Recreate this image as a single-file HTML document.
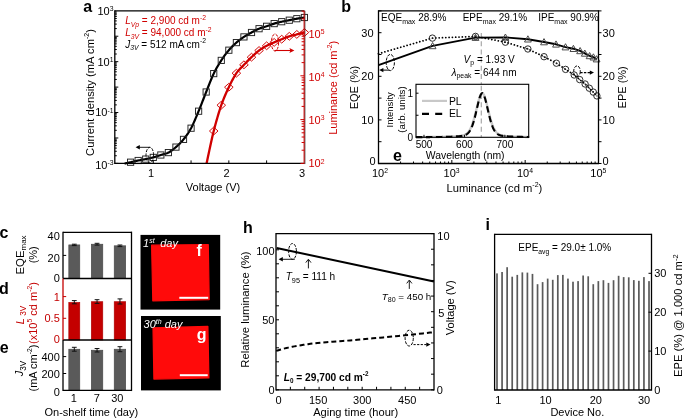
<!DOCTYPE html>
<html><head><meta charset="utf-8"><style>
html,body{margin:0;padding:0;background:#fff;}
body{width:685px;height:418px;overflow:hidden;}
svg{display:block;font-family:"Liberation Sans", sans-serif;will-change:transform;}
</style></head><body>
<svg width="685" height="418" viewBox="0 0 685 418">
<rect x="0" y="0" width="685" height="418" fill="#fff"/>
<path d="M124.57,163.60 L125.16,163.46 L125.75,163.32 L126.33,163.19 L126.91,163.05 L127.50,162.92 L128.09,162.78 L128.69,162.64 L129.31,162.50 L129.95,162.35 L130.61,162.20 L131.31,162.04 L132.03,161.87 L132.77,161.70 L133.53,161.53 L134.30,161.35 L135.07,161.17 L135.85,161.00 L136.63,160.83 L137.41,160.66 L138.17,160.50 L138.92,160.35 L139.68,160.21 L140.43,160.07 L141.19,159.93 L141.95,159.80 L142.70,159.67 L143.46,159.53 L144.21,159.39 L144.97,159.25 L145.72,159.10 L146.48,158.95 L147.24,158.79 L147.99,158.63 L148.75,158.48 L149.50,158.31 L150.26,158.14 L151.01,157.97 L151.77,157.79 L152.52,157.60 L153.28,157.40 L154.04,157.19 L154.79,156.96 L155.55,156.73 L156.30,156.49 L157.06,156.24 L157.81,155.99 L158.57,155.74 L159.32,155.49 L160.08,155.24 L160.84,155.00 L161.59,154.77 L162.35,154.57 L163.10,154.38 L163.86,154.19 L164.61,153.99 L165.37,153.78 L166.13,153.55 L166.88,153.28 L167.64,152.97 L168.39,152.60 L169.15,152.19 L169.90,151.73 L170.66,151.25 L171.41,150.73 L172.17,150.18 L172.93,149.61 L173.68,149.01 L174.44,148.39 L175.19,147.75 L175.95,147.10 L176.70,146.43 L177.46,145.76 L178.21,145.06 L178.97,144.35 L179.73,143.61 L180.48,142.84 L181.24,142.04 L181.99,141.20 L182.75,140.32 L183.50,139.40 L184.26,138.45 L185.02,137.48 L185.77,136.48 L186.53,135.45 L187.28,134.38 L188.04,133.27 L188.79,132.10 L189.55,130.87 L190.30,129.57 L191.06,128.20 L191.82,126.74 L192.57,125.21 L193.33,123.60 L194.08,121.92 L194.84,120.20 L195.59,118.44 L196.35,116.64 L197.10,114.83 L197.86,113.02 L198.62,111.20 L199.37,109.37 L200.13,107.49 L200.88,105.58 L201.64,103.64 L202.39,101.69 L203.15,99.73 L203.91,97.77 L204.66,95.82 L205.42,93.90 L206.17,92.00 L206.93,90.10 L207.68,88.19 L208.44,86.26 L209.19,84.33 L209.95,82.42 L210.71,80.55 L211.46,78.71 L212.22,76.93 L212.97,75.23 L213.73,73.60 L214.48,72.06 L215.24,70.58 L215.99,69.16 L216.75,67.80 L217.51,66.49 L218.26,65.21 L219.02,63.98 L219.77,62.76 L220.53,61.58 L221.28,60.40 L222.04,59.25 L222.80,58.13 L223.55,57.04 L224.31,55.98 L225.06,54.95 L225.82,53.95 L226.57,52.97 L227.33,52.03 L228.08,51.10 L228.84,50.20 L229.60,49.33 L230.35,48.48 L231.11,47.67 L231.86,46.88 L232.62,46.12 L233.37,45.38 L234.13,44.66 L234.88,43.96 L235.64,43.27 L236.40,42.60 L237.15,41.95 L237.91,41.32 L238.66,40.71 L239.42,40.12 L240.17,39.55 L240.93,39.00 L241.69,38.45 L242.44,37.93 L243.20,37.41 L243.95,36.90 L244.71,36.40 L245.46,35.93 L246.22,35.47 L246.97,35.02 L247.73,34.58 L248.49,34.15 L249.24,33.73 L250.00,33.32 L250.75,32.91 L251.51,32.50 L252.26,32.09 L253.02,31.68 L253.77,31.27 L254.53,30.87 L255.29,30.47 L256.04,30.09 L256.80,29.72 L257.55,29.36 L258.31,29.02 L259.06,28.70 L259.82,28.40 L260.58,28.14 L261.33,27.89 L262.09,27.65 L262.84,27.43 L263.60,27.21 L264.35,27.00 L265.11,26.78 L265.86,26.55 L266.62,26.30 L267.38,26.04 L268.13,25.77 L268.89,25.49 L269.64,25.20 L270.40,24.92 L271.15,24.64 L271.91,24.36 L272.66,24.09 L273.42,23.84 L274.18,23.60 L274.93,23.38 L275.69,23.16 L276.44,22.96 L277.20,22.76 L277.95,22.58 L278.71,22.39 L279.47,22.22 L280.22,22.04 L280.98,21.87 L281.73,21.70 L282.49,21.53 L283.24,21.37 L284.00,21.22 L284.75,21.07 L285.51,20.93 L286.27,20.78 L287.02,20.64 L287.78,20.49 L288.53,20.35 L289.29,20.20 L290.04,20.05 L290.80,19.90 L291.55,19.74 L292.31,19.59 L293.07,19.43 L293.82,19.28 L294.58,19.13 L295.33,18.98 L296.09,18.84 L296.84,18.70 L297.60,18.57 L298.36,18.44 L299.11,18.32 L299.87,18.20 L300.62,18.08 L301.38,17.97 L302.13,17.85 L302.89,17.74 L303.64,17.62 L304.40,17.50" stroke="#000" stroke-width="2.2" fill="none" stroke-linejoin="round"/>
<path d="M206.55,163.40 L207.27,160.13 L207.98,156.81 L208.69,153.47 L209.40,150.12 L210.12,146.79 L210.83,143.48 L211.55,140.23 L212.27,137.06 L212.99,133.97 L213.73,131.00 L214.47,128.12 L215.22,125.29 L215.97,122.53 L216.72,119.83 L217.48,117.20 L218.24,114.64 L219.01,112.16 L219.77,109.76 L220.53,107.43 L221.28,105.20 L222.04,103.07 L222.80,101.04 L223.55,99.10 L224.31,97.25 L225.06,95.46 L225.82,93.74 L226.57,92.06 L227.33,90.42 L228.08,88.80 L228.84,87.20 L229.60,85.61 L230.35,84.05 L231.11,82.53 L231.86,81.04 L232.62,79.60 L233.37,78.20 L234.13,76.86 L234.88,75.58 L235.64,74.36 L236.40,73.20 L237.15,72.13 L237.91,71.15 L238.66,70.24 L239.42,69.40 L240.17,68.60 L240.93,67.83 L241.69,67.08 L242.44,66.34 L243.20,65.58 L243.95,64.80 L244.71,64.00 L245.46,63.21 L246.22,62.43 L246.97,61.66 L247.73,60.89 L248.49,60.14 L249.24,59.39 L250.00,58.65 L250.75,57.92 L251.51,57.20 L252.26,56.48 L253.02,55.77 L253.77,55.06 L254.53,54.36 L255.29,53.67 L256.04,52.99 L256.80,52.33 L257.55,51.70 L258.31,51.08 L259.06,50.50 L259.82,49.94 L260.58,49.41 L261.33,48.90 L262.09,48.41 L262.84,47.94 L263.60,47.49 L264.35,47.05 L265.11,46.62 L265.86,46.21 L266.62,45.80 L267.38,45.41 L268.13,45.03 L268.89,44.68 L269.64,44.34 L270.40,44.01 L271.15,43.68 L271.91,43.36 L272.66,43.05 L273.42,42.73 L274.18,42.40 L274.93,42.07 L275.69,41.74 L276.44,41.42 L277.20,41.09 L277.95,40.77 L278.71,40.45 L279.47,40.13 L280.22,39.82 L280.98,39.51 L281.73,39.20 L282.49,38.89 L283.24,38.58 L284.00,38.28 L284.75,37.97 L285.51,37.67 L286.27,37.37 L287.02,37.09 L287.78,36.81 L288.53,36.55 L289.29,36.30 L290.04,36.07 L290.80,35.86 L291.55,35.66 L292.31,35.47 L293.07,35.29 L293.82,35.11 L294.58,34.94 L295.33,34.76 L296.09,34.59 L296.84,34.40 L297.60,34.21 L298.36,34.02 L299.11,33.83 L299.87,33.64 L300.62,33.45 L301.38,33.26 L302.13,33.07 L302.89,32.88 L303.64,32.69 L304.40,32.50" stroke="#d00000" stroke-width="2.3" fill="none" stroke-linejoin="round"/>
<rect x="127.51" y="159.10" width="6.2" height="6.2" fill="none" stroke="#222" stroke-width="0.95"/>
<rect x="135.07" y="157.40" width="6.2" height="6.2" fill="none" stroke="#222" stroke-width="0.95"/>
<rect x="142.62" y="156.00" width="6.2" height="6.2" fill="none" stroke="#222" stroke-width="0.95"/>
<rect x="150.18" y="154.30" width="6.2" height="6.2" fill="none" stroke="#222" stroke-width="0.95"/>
<rect x="157.74" y="151.90" width="6.2" height="6.2" fill="none" stroke="#222" stroke-width="0.95"/>
<rect x="165.29" y="149.50" width="6.2" height="6.2" fill="none" stroke="#222" stroke-width="0.95"/>
<rect x="172.85" y="144.00" width="6.2" height="6.2" fill="none" stroke="#222" stroke-width="0.95"/>
<rect x="180.40" y="136.30" width="6.2" height="6.2" fill="none" stroke="#222" stroke-width="0.95"/>
<rect x="187.96" y="125.10" width="6.2" height="6.2" fill="none" stroke="#222" stroke-width="0.95"/>
<rect x="195.52" y="108.10" width="6.2" height="6.2" fill="none" stroke="#222" stroke-width="0.95"/>
<rect x="203.07" y="88.90" width="6.2" height="6.2" fill="none" stroke="#222" stroke-width="0.95"/>
<rect x="210.63" y="70.50" width="6.2" height="6.2" fill="none" stroke="#222" stroke-width="0.95"/>
<rect x="218.18" y="57.30" width="6.2" height="6.2" fill="none" stroke="#222" stroke-width="0.95"/>
<rect x="225.74" y="47.10" width="6.2" height="6.2" fill="none" stroke="#222" stroke-width="0.95"/>
<rect x="233.30" y="39.50" width="6.2" height="6.2" fill="none" stroke="#222" stroke-width="0.95"/>
<rect x="240.85" y="33.80" width="6.2" height="6.2" fill="none" stroke="#222" stroke-width="0.95"/>
<rect x="248.41" y="29.40" width="6.2" height="6.2" fill="none" stroke="#222" stroke-width="0.95"/>
<rect x="255.96" y="25.60" width="6.2" height="6.2" fill="none" stroke="#222" stroke-width="0.95"/>
<rect x="263.52" y="23.20" width="6.2" height="6.2" fill="none" stroke="#222" stroke-width="0.95"/>
<rect x="271.08" y="20.50" width="6.2" height="6.2" fill="none" stroke="#222" stroke-width="0.95"/>
<rect x="278.63" y="18.60" width="6.2" height="6.2" fill="none" stroke="#222" stroke-width="0.95"/>
<rect x="286.19" y="17.10" width="6.2" height="6.2" fill="none" stroke="#222" stroke-width="0.95"/>
<rect x="293.74" y="15.60" width="6.2" height="6.2" fill="none" stroke="#222" stroke-width="0.95"/>
<rect x="301.30" y="14.40" width="6.2" height="6.2" fill="none" stroke="#222" stroke-width="0.95"/>
<path d="M209.43,131.00 L213.73,127.10 L218.03,131.00 L213.73,134.90 Z" fill="none" stroke="#d00000" stroke-width="0.95"/>
<path d="M216.98,105.20 L221.28,101.30 L225.58,105.20 L221.28,109.10 Z" fill="none" stroke="#d00000" stroke-width="0.95"/>
<path d="M224.54,87.20 L228.84,83.30 L233.14,87.20 L228.84,91.10 Z" fill="none" stroke="#d00000" stroke-width="0.95"/>
<path d="M232.10,73.20 L236.40,69.30 L240.70,73.20 L236.40,77.10 Z" fill="none" stroke="#d00000" stroke-width="0.95"/>
<path d="M239.65,64.80 L243.95,60.90 L248.25,64.80 L243.95,68.70 Z" fill="none" stroke="#d00000" stroke-width="0.95"/>
<path d="M247.21,57.20 L251.51,53.30 L255.81,57.20 L251.51,61.10 Z" fill="none" stroke="#d00000" stroke-width="0.95"/>
<path d="M254.76,50.50 L259.06,46.60 L263.36,50.50 L259.06,54.40 Z" fill="none" stroke="#d00000" stroke-width="0.95"/>
<path d="M262.32,45.80 L266.62,41.90 L270.92,45.80 L266.62,49.70 Z" fill="none" stroke="#d00000" stroke-width="0.95"/>
<path d="M269.88,42.40 L274.18,38.50 L278.48,42.40 L274.18,46.30 Z" fill="none" stroke="#d00000" stroke-width="0.95"/>
<path d="M277.43,39.20 L281.73,35.30 L286.03,39.20 L281.73,43.10 Z" fill="none" stroke="#d00000" stroke-width="0.95"/>
<path d="M284.99,36.30 L289.29,32.40 L293.59,36.30 L289.29,40.20 Z" fill="none" stroke="#d00000" stroke-width="0.95"/>
<path d="M292.54,34.40 L296.84,30.50 L301.14,34.40 L296.84,38.30 Z" fill="none" stroke="#d00000" stroke-width="0.95"/>
<path d="M300.10,32.50 L304.40,28.60 L308.70,32.50 L304.40,36.40 Z" fill="none" stroke="#d00000" stroke-width="0.95"/>
<line x1="114.80" y1="10.80" x2="304.40" y2="10.80" stroke="#000" stroke-width="1.3" />
<line x1="114.80" y1="163.40" x2="304.40" y2="163.40" stroke="#000" stroke-width="1.3" />
<line x1="114.80" y1="10.15" x2="114.80" y2="164.05" stroke="#000" stroke-width="1.3" />
<line x1="304.85" y1="10.80" x2="304.85" y2="164.05" stroke="#222" stroke-width="0.9" />
<line x1="304.10" y1="10.80" x2="304.10" y2="162.90" stroke="#d00000" stroke-width="1.0" />
<line x1="114.80" y1="163.40" x2="118.30" y2="163.40" stroke="#000" stroke-width="1" />
<line x1="114.80" y1="155.74" x2="116.80" y2="155.74" stroke="#000" stroke-width="1" />
<line x1="114.80" y1="151.27" x2="116.80" y2="151.27" stroke="#000" stroke-width="1" />
<line x1="114.80" y1="148.09" x2="116.80" y2="148.09" stroke="#000" stroke-width="1" />
<line x1="114.80" y1="145.62" x2="116.80" y2="145.62" stroke="#000" stroke-width="1" />
<line x1="114.80" y1="143.61" x2="116.80" y2="143.61" stroke="#000" stroke-width="1" />
<line x1="114.80" y1="141.91" x2="116.80" y2="141.91" stroke="#000" stroke-width="1" />
<line x1="114.80" y1="140.43" x2="116.80" y2="140.43" stroke="#000" stroke-width="1" />
<line x1="114.80" y1="139.13" x2="116.80" y2="139.13" stroke="#000" stroke-width="1" />
<line x1="114.80" y1="137.97" x2="118.30" y2="137.97" stroke="#000" stroke-width="1" />
<line x1="114.80" y1="130.31" x2="116.80" y2="130.31" stroke="#000" stroke-width="1" />
<line x1="114.80" y1="125.83" x2="116.80" y2="125.83" stroke="#000" stroke-width="1" />
<line x1="114.80" y1="122.65" x2="116.80" y2="122.65" stroke="#000" stroke-width="1" />
<line x1="114.80" y1="120.19" x2="116.80" y2="120.19" stroke="#000" stroke-width="1" />
<line x1="114.80" y1="118.18" x2="116.80" y2="118.18" stroke="#000" stroke-width="1" />
<line x1="114.80" y1="116.47" x2="116.80" y2="116.47" stroke="#000" stroke-width="1" />
<line x1="114.80" y1="115.00" x2="116.80" y2="115.00" stroke="#000" stroke-width="1" />
<line x1="114.80" y1="113.70" x2="116.80" y2="113.70" stroke="#000" stroke-width="1" />
<line x1="114.80" y1="112.53" x2="118.30" y2="112.53" stroke="#000" stroke-width="1" />
<line x1="114.80" y1="104.88" x2="116.80" y2="104.88" stroke="#000" stroke-width="1" />
<line x1="114.80" y1="100.40" x2="116.80" y2="100.40" stroke="#000" stroke-width="1" />
<line x1="114.80" y1="97.22" x2="116.80" y2="97.22" stroke="#000" stroke-width="1" />
<line x1="114.80" y1="94.76" x2="116.80" y2="94.76" stroke="#000" stroke-width="1" />
<line x1="114.80" y1="92.74" x2="116.80" y2="92.74" stroke="#000" stroke-width="1" />
<line x1="114.80" y1="91.04" x2="116.80" y2="91.04" stroke="#000" stroke-width="1" />
<line x1="114.80" y1="89.56" x2="116.80" y2="89.56" stroke="#000" stroke-width="1" />
<line x1="114.80" y1="88.26" x2="116.80" y2="88.26" stroke="#000" stroke-width="1" />
<line x1="114.80" y1="87.10" x2="118.30" y2="87.10" stroke="#000" stroke-width="1" />
<line x1="114.80" y1="79.44" x2="116.80" y2="79.44" stroke="#000" stroke-width="1" />
<line x1="114.80" y1="74.97" x2="116.80" y2="74.97" stroke="#000" stroke-width="1" />
<line x1="114.80" y1="71.79" x2="116.80" y2="71.79" stroke="#000" stroke-width="1" />
<line x1="114.80" y1="69.32" x2="116.80" y2="69.32" stroke="#000" stroke-width="1" />
<line x1="114.80" y1="67.31" x2="116.80" y2="67.31" stroke="#000" stroke-width="1" />
<line x1="114.80" y1="65.61" x2="116.80" y2="65.61" stroke="#000" stroke-width="1" />
<line x1="114.80" y1="64.13" x2="116.80" y2="64.13" stroke="#000" stroke-width="1" />
<line x1="114.80" y1="62.83" x2="116.80" y2="62.83" stroke="#000" stroke-width="1" />
<line x1="114.80" y1="61.67" x2="118.30" y2="61.67" stroke="#000" stroke-width="1" />
<line x1="114.80" y1="54.01" x2="116.80" y2="54.01" stroke="#000" stroke-width="1" />
<line x1="114.80" y1="49.53" x2="116.80" y2="49.53" stroke="#000" stroke-width="1" />
<line x1="114.80" y1="46.35" x2="116.80" y2="46.35" stroke="#000" stroke-width="1" />
<line x1="114.80" y1="43.89" x2="116.80" y2="43.89" stroke="#000" stroke-width="1" />
<line x1="114.80" y1="41.88" x2="116.80" y2="41.88" stroke="#000" stroke-width="1" />
<line x1="114.80" y1="40.17" x2="116.80" y2="40.17" stroke="#000" stroke-width="1" />
<line x1="114.80" y1="38.70" x2="116.80" y2="38.70" stroke="#000" stroke-width="1" />
<line x1="114.80" y1="37.40" x2="116.80" y2="37.40" stroke="#000" stroke-width="1" />
<line x1="114.80" y1="36.23" x2="118.30" y2="36.23" stroke="#000" stroke-width="1" />
<line x1="114.80" y1="28.58" x2="116.80" y2="28.58" stroke="#000" stroke-width="1" />
<line x1="114.80" y1="24.10" x2="116.80" y2="24.10" stroke="#000" stroke-width="1" />
<line x1="114.80" y1="20.92" x2="116.80" y2="20.92" stroke="#000" stroke-width="1" />
<line x1="114.80" y1="18.46" x2="116.80" y2="18.46" stroke="#000" stroke-width="1" />
<line x1="114.80" y1="16.44" x2="116.80" y2="16.44" stroke="#000" stroke-width="1" />
<line x1="114.80" y1="14.74" x2="116.80" y2="14.74" stroke="#000" stroke-width="1" />
<line x1="114.80" y1="13.26" x2="116.80" y2="13.26" stroke="#000" stroke-width="1" />
<line x1="114.80" y1="11.96" x2="116.80" y2="11.96" stroke="#000" stroke-width="1" />
<line x1="304.40" y1="163.40" x2="300.40" y2="163.40" stroke="#d00000" stroke-width="1" />
<line x1="304.40" y1="150.21" x2="301.60" y2="150.21" stroke="#d00000" stroke-width="1" />
<line x1="304.40" y1="142.50" x2="301.60" y2="142.50" stroke="#d00000" stroke-width="1" />
<line x1="304.40" y1="137.03" x2="301.60" y2="137.03" stroke="#d00000" stroke-width="1" />
<line x1="304.40" y1="132.79" x2="301.60" y2="132.79" stroke="#d00000" stroke-width="1" />
<line x1="304.40" y1="129.32" x2="301.60" y2="129.32" stroke="#d00000" stroke-width="1" />
<line x1="304.40" y1="126.38" x2="301.60" y2="126.38" stroke="#d00000" stroke-width="1" />
<line x1="304.40" y1="123.84" x2="301.60" y2="123.84" stroke="#d00000" stroke-width="1" />
<line x1="304.40" y1="121.60" x2="301.60" y2="121.60" stroke="#d00000" stroke-width="1" />
<line x1="304.40" y1="119.60" x2="300.40" y2="119.60" stroke="#d00000" stroke-width="1" />
<line x1="304.40" y1="106.41" x2="301.60" y2="106.41" stroke="#d00000" stroke-width="1" />
<line x1="304.40" y1="98.70" x2="301.60" y2="98.70" stroke="#d00000" stroke-width="1" />
<line x1="304.40" y1="93.23" x2="301.60" y2="93.23" stroke="#d00000" stroke-width="1" />
<line x1="304.40" y1="88.99" x2="301.60" y2="88.99" stroke="#d00000" stroke-width="1" />
<line x1="304.40" y1="85.52" x2="301.60" y2="85.52" stroke="#d00000" stroke-width="1" />
<line x1="304.40" y1="82.58" x2="301.60" y2="82.58" stroke="#d00000" stroke-width="1" />
<line x1="304.40" y1="80.04" x2="301.60" y2="80.04" stroke="#d00000" stroke-width="1" />
<line x1="304.40" y1="77.80" x2="301.60" y2="77.80" stroke="#d00000" stroke-width="1" />
<line x1="304.40" y1="75.80" x2="300.40" y2="75.80" stroke="#d00000" stroke-width="1" />
<line x1="304.40" y1="62.61" x2="301.60" y2="62.61" stroke="#d00000" stroke-width="1" />
<line x1="304.40" y1="54.90" x2="301.60" y2="54.90" stroke="#d00000" stroke-width="1" />
<line x1="304.40" y1="49.43" x2="301.60" y2="49.43" stroke="#d00000" stroke-width="1" />
<line x1="304.40" y1="45.19" x2="301.60" y2="45.19" stroke="#d00000" stroke-width="1" />
<line x1="304.40" y1="41.72" x2="301.60" y2="41.72" stroke="#d00000" stroke-width="1" />
<line x1="304.40" y1="38.78" x2="301.60" y2="38.78" stroke="#d00000" stroke-width="1" />
<line x1="304.40" y1="36.24" x2="301.60" y2="36.24" stroke="#d00000" stroke-width="1" />
<line x1="304.40" y1="34.00" x2="301.60" y2="34.00" stroke="#d00000" stroke-width="1" />
<line x1="304.40" y1="32.00" x2="300.40" y2="32.00" stroke="#d00000" stroke-width="1" />
<line x1="304.40" y1="18.81" x2="301.60" y2="18.81" stroke="#d00000" stroke-width="1" />
<line x1="304.40" y1="11.10" x2="301.60" y2="11.10" stroke="#d00000" stroke-width="1" />
<line x1="153.28" y1="163.40" x2="153.28" y2="160.40" stroke="#000" stroke-width="1" />
<line x1="191.06" y1="163.40" x2="191.06" y2="160.40" stroke="#000" stroke-width="1" />
<line x1="228.84" y1="163.40" x2="228.84" y2="160.40" stroke="#000" stroke-width="1" />
<line x1="266.62" y1="163.40" x2="266.62" y2="160.40" stroke="#000" stroke-width="1" />
<text x="83.3" y="12.3" font-size="16" text-anchor="start" fill="#000" font-weight="bold" font-style="normal" ><tspan >a</tspan></text>
<text x="113.5" y="14.700000000000012" font-size="11" text-anchor="end" fill="#000" font-weight="normal" font-style="normal" ><tspan >10</tspan><tspan font-size="6.82" dy="-3.74">3</tspan></text>
<text x="113.5" y="65.56666666666668" font-size="11" text-anchor="end" fill="#000" font-weight="normal" font-style="normal" ><tspan >10</tspan><tspan font-size="6.82" dy="-3.74">1</tspan></text>
<text x="113.5" y="116.43333333333334" font-size="11" text-anchor="end" fill="#000" font-weight="normal" font-style="normal" ><tspan >10</tspan><tspan font-size="6.82" dy="-3.74">-1</tspan></text>
<text x="113.5" y="168.8" font-size="11" text-anchor="end" fill="#000" font-weight="normal" font-style="normal" ><tspan >10</tspan><tspan font-size="6.82" dy="-3.74">-3</tspan></text>
<text x="150.98" y="177.0" font-size="11" text-anchor="middle" fill="#000" font-weight="normal" font-style="normal" ><tspan >1</tspan></text>
<text x="226.54" y="177.0" font-size="11" text-anchor="middle" fill="#000" font-weight="normal" font-style="normal" ><tspan >2</tspan></text>
<text x="302.09999999999997" y="177.0" font-size="11" text-anchor="middle" fill="#000" font-weight="normal" font-style="normal" ><tspan >3</tspan></text>
<text x="213.0" y="190.7" font-size="11" text-anchor="middle" fill="#000" font-weight="normal" font-style="normal" ><tspan >Voltage (V)</tspan></text>
<text x="93.5" y="92.5" font-size="11.2" text-anchor="middle" fill="#000" font-weight="normal" font-style="normal" transform="rotate(-90 93.5 92.5)" ><tspan >Current density (mA cm</tspan><tspan font-size="6.94" dy="-4.70">-2</tspan><tspan dy="4.70">)</tspan></text>
<text x="308.5" y="37.60000000000003" font-size="11" text-anchor="start" fill="#d00000" font-weight="normal" font-style="normal" ><tspan >10</tspan><tspan font-size="6.82" dy="-3.74">5</tspan></text>
<text x="308.5" y="80.50000000000001" font-size="11" text-anchor="start" fill="#d00000" font-weight="normal" font-style="normal" ><tspan >10</tspan><tspan font-size="6.82" dy="-3.74">4</tspan></text>
<text x="308.5" y="123.80000000000001" font-size="11" text-anchor="start" fill="#d00000" font-weight="normal" font-style="normal" ><tspan >10</tspan><tspan font-size="6.82" dy="-3.74">3</tspan></text>
<text x="308.5" y="167.3" font-size="11" text-anchor="start" fill="#d00000" font-weight="normal" font-style="normal" ><tspan >10</tspan><tspan font-size="6.82" dy="-3.74">2</tspan></text>
<text x="336.7" y="87.8" font-size="11" text-anchor="middle" fill="#d00000" font-weight="normal" font-style="normal" transform="rotate(-90 336.7 87.8)" ><tspan >Luminance (cd m</tspan><tspan font-size="6.82" dy="-4.62">-2</tspan><tspan dy="4.62">)</tspan></text>
<text x="125.2" y="23.8" font-size="10" text-anchor="start" fill="#d00000" font-weight="normal" font-style="normal" ><tspan font-style="italic">L</tspan><tspan font-size="6.80" font-style="italic" dy="2.80">Vp</tspan><tspan dy="-2.80"> = 2,900 cd m</tspan><tspan font-size="6.80" dy="-4.20">-2</tspan></text>
<text x="125.2" y="35.7" font-size="10" text-anchor="start" fill="#d00000" font-weight="normal" font-style="normal" ><tspan font-style="italic">L</tspan><tspan font-size="6.80" font-style="italic" dy="2.80">3V</tspan><tspan dy="-2.80"> = 94,000 cd m</tspan><tspan font-size="6.80" dy="-4.20">-2</tspan></text>
<text x="125.2" y="47.6" font-size="10" text-anchor="start" fill="#000" font-weight="normal" font-style="normal" ><tspan font-style="italic">J</tspan><tspan font-size="6.80" font-style="italic" dy="2.80">3V</tspan><tspan dy="-2.80"> = 512 mA cm</tspan><tspan font-size="6.80" dy="-4.20">-2</tspan></text>
<ellipse cx="149.8" cy="155.1" rx="3.8" ry="7.8" fill="none" stroke="#000" stroke-width="1.0" stroke-dasharray="3,1.3"/>
<line x1="149.80" y1="147.30" x2="137.00" y2="147.30" stroke="#000" stroke-width="0.9" />
<path d="M135.6,147.3 L139.8,145.1 L139.8,149.5 Z" fill="#000"/>
<ellipse cx="275.0" cy="42.5" rx="3.6" ry="8.5" fill="none" stroke="#d00000" stroke-width="1.0" stroke-dasharray="3,1.3"/>
<line x1="274.60" y1="50.50" x2="291.50" y2="50.50" stroke="#d00000" stroke-width="1.1" />
<path d="M294.4,50.5 L289.4,48.1 L290.4,50.5 L289.4,52.9 Z" fill="#d00000"/>
<line x1="481.30" y1="33.00" x2="481.30" y2="137.30" stroke="#a8a8a8" stroke-width="1.2" stroke-dasharray="5,3.2"/>
<path d="M378.50,65.10 L432.60,45.90 L475.50,37.60 L505.40,37.40 L527.90,39.20 L544.00,42.00 L556.00,44.30 L565.50,47.10 L573.40,48.70 L580.10,50.90 L584.80,53.40 L589.60,55.90 L593.40,57.20 L596.60,59.10" stroke="#000" stroke-width="1.9" fill="none" stroke-linejoin="round"/>
<path d="M378.50,53.70 L432.40,38.10 L475.50,36.40 L505.40,42.20 L527.90,49.00 L544.00,56.70 L556.40,63.20 L565.60,69.40 L574.20,75.00 L579.70,79.60 L585.10,84.00 L589.30,88.20 L593.30,92.10 L596.90,95.90" stroke="#000" stroke-width="1.8" fill="none" stroke-dasharray="0.01,3.3" stroke-linecap="round"/>
<path d="M432.60,42.50 L436.00,48.70 L429.20,48.70 Z" fill="none" stroke="#4a4a4a" stroke-width="1.0"/>
<path d="M475.50,34.20 L478.90,40.40 L472.10,40.40 Z" fill="none" stroke="#4a4a4a" stroke-width="1.0"/>
<path d="M505.40,34.00 L508.80,40.20 L502.00,40.20 Z" fill="none" stroke="#4a4a4a" stroke-width="1.0"/>
<path d="M527.90,35.80 L531.30,42.00 L524.50,42.00 Z" fill="none" stroke="#4a4a4a" stroke-width="1.0"/>
<path d="M544.00,38.60 L547.40,44.80 L540.60,44.80 Z" fill="none" stroke="#4a4a4a" stroke-width="1.0"/>
<path d="M556.00,40.90 L559.40,47.10 L552.60,47.10 Z" fill="none" stroke="#4a4a4a" stroke-width="1.0"/>
<path d="M565.50,43.70 L568.90,49.90 L562.10,49.90 Z" fill="none" stroke="#4a4a4a" stroke-width="1.0"/>
<path d="M573.40,45.30 L576.80,51.50 L570.00,51.50 Z" fill="none" stroke="#4a4a4a" stroke-width="1.0"/>
<path d="M580.10,47.50 L583.50,53.70 L576.70,53.70 Z" fill="none" stroke="#4a4a4a" stroke-width="1.0"/>
<path d="M584.80,50.00 L588.20,56.20 L581.40,56.20 Z" fill="none" stroke="#4a4a4a" stroke-width="1.0"/>
<path d="M589.60,52.50 L593.00,58.70 L586.20,58.70 Z" fill="none" stroke="#4a4a4a" stroke-width="1.0"/>
<path d="M593.40,53.80 L596.80,60.00 L590.00,60.00 Z" fill="none" stroke="#4a4a4a" stroke-width="1.0"/>
<path d="M596.60,55.70 L600.00,61.90 L593.20,61.90 Z" fill="none" stroke="#4a4a4a" stroke-width="1.0"/>
<circle cx="432.4" cy="38.1" r="3.2" fill="none" stroke="#222" stroke-width="0.95"/>
<circle cx="432.4" cy="38.1" r="0.7" fill="#222"/>
<circle cx="475.5" cy="36.4" r="3.2" fill="none" stroke="#222" stroke-width="0.95"/>
<circle cx="475.5" cy="36.4" r="0.7" fill="#222"/>
<circle cx="505.4" cy="42.2" r="3.2" fill="none" stroke="#222" stroke-width="0.95"/>
<circle cx="505.4" cy="42.2" r="0.7" fill="#222"/>
<circle cx="527.9" cy="49" r="3.2" fill="none" stroke="#222" stroke-width="0.95"/>
<circle cx="527.9" cy="49" r="0.7" fill="#222"/>
<circle cx="544" cy="56.7" r="3.2" fill="none" stroke="#222" stroke-width="0.95"/>
<circle cx="544" cy="56.7" r="0.7" fill="#222"/>
<circle cx="556.4" cy="63.2" r="3.2" fill="none" stroke="#222" stroke-width="0.95"/>
<circle cx="556.4" cy="63.2" r="0.7" fill="#222"/>
<circle cx="565.6" cy="69.4" r="3.2" fill="none" stroke="#222" stroke-width="0.95"/>
<circle cx="565.6" cy="69.4" r="0.7" fill="#222"/>
<circle cx="574.2" cy="75" r="3.2" fill="none" stroke="#222" stroke-width="0.95"/>
<circle cx="574.2" cy="75" r="0.7" fill="#222"/>
<circle cx="579.7" cy="79.6" r="3.2" fill="none" stroke="#222" stroke-width="0.95"/>
<circle cx="579.7" cy="79.6" r="0.7" fill="#222"/>
<circle cx="585.1" cy="84" r="3.2" fill="none" stroke="#222" stroke-width="0.95"/>
<circle cx="585.1" cy="84" r="0.7" fill="#222"/>
<circle cx="589.3" cy="88.2" r="3.2" fill="none" stroke="#222" stroke-width="0.95"/>
<circle cx="589.3" cy="88.2" r="0.7" fill="#222"/>
<circle cx="593.3" cy="92.1" r="3.2" fill="none" stroke="#222" stroke-width="0.95"/>
<circle cx="593.3" cy="92.1" r="0.7" fill="#222"/>
<circle cx="596.9" cy="95.9" r="3.2" fill="none" stroke="#222" stroke-width="0.95"/>
<circle cx="596.9" cy="95.9" r="0.7" fill="#222"/>
<line x1="378.50" y1="10.90" x2="598.50" y2="10.90" stroke="#000" stroke-width="1.3" />
<line x1="378.50" y1="163.50" x2="598.50" y2="163.50" stroke="#000" stroke-width="1.3" />
<line x1="378.50" y1="10.25" x2="378.50" y2="164.15" stroke="#000" stroke-width="1.3" />
<line x1="598.50" y1="10.25" x2="598.50" y2="164.15" stroke="#000" stroke-width="1.3" />
<line x1="378.50" y1="163.50" x2="381.50" y2="163.50" stroke="#000" stroke-width="1" />
<line x1="598.50" y1="163.50" x2="601.50" y2="163.50" stroke="#000" stroke-width="1" />
<line x1="378.50" y1="141.70" x2="381.50" y2="141.70" stroke="#000" stroke-width="1" />
<line x1="598.50" y1="141.70" x2="601.50" y2="141.70" stroke="#000" stroke-width="1" />
<line x1="378.50" y1="119.90" x2="381.50" y2="119.90" stroke="#000" stroke-width="1" />
<line x1="598.50" y1="119.90" x2="601.50" y2="119.90" stroke="#000" stroke-width="1" />
<line x1="378.50" y1="98.10" x2="381.50" y2="98.10" stroke="#000" stroke-width="1" />
<line x1="598.50" y1="98.10" x2="601.50" y2="98.10" stroke="#000" stroke-width="1" />
<line x1="378.50" y1="76.30" x2="381.50" y2="76.30" stroke="#000" stroke-width="1" />
<line x1="598.50" y1="76.30" x2="601.50" y2="76.30" stroke="#000" stroke-width="1" />
<line x1="378.50" y1="54.50" x2="381.50" y2="54.50" stroke="#000" stroke-width="1" />
<line x1="598.50" y1="54.50" x2="601.50" y2="54.50" stroke="#000" stroke-width="1" />
<line x1="378.50" y1="32.70" x2="381.50" y2="32.70" stroke="#000" stroke-width="1" />
<line x1="598.50" y1="32.70" x2="601.50" y2="32.70" stroke="#000" stroke-width="1" />
<line x1="378.50" y1="10.90" x2="381.50" y2="10.90" stroke="#000" stroke-width="1" />
<line x1="598.50" y1="10.90" x2="601.50" y2="10.90" stroke="#000" stroke-width="1" />
<line x1="378.50" y1="163.50" x2="378.50" y2="160.00" stroke="#000" stroke-width="1" />
<line x1="400.58" y1="163.50" x2="400.58" y2="161.50" stroke="#000" stroke-width="1" />
<line x1="413.49" y1="163.50" x2="413.49" y2="161.50" stroke="#000" stroke-width="1" />
<line x1="422.65" y1="163.50" x2="422.65" y2="161.50" stroke="#000" stroke-width="1" />
<line x1="429.76" y1="163.50" x2="429.76" y2="161.50" stroke="#000" stroke-width="1" />
<line x1="435.56" y1="163.50" x2="435.56" y2="161.50" stroke="#000" stroke-width="1" />
<line x1="440.47" y1="163.50" x2="440.47" y2="161.50" stroke="#000" stroke-width="1" />
<line x1="444.73" y1="163.50" x2="444.73" y2="161.50" stroke="#000" stroke-width="1" />
<line x1="448.48" y1="163.50" x2="448.48" y2="161.50" stroke="#000" stroke-width="1" />
<line x1="451.83" y1="163.50" x2="451.83" y2="160.00" stroke="#000" stroke-width="1" />
<line x1="473.91" y1="163.50" x2="473.91" y2="161.50" stroke="#000" stroke-width="1" />
<line x1="486.82" y1="163.50" x2="486.82" y2="161.50" stroke="#000" stroke-width="1" />
<line x1="495.98" y1="163.50" x2="495.98" y2="161.50" stroke="#000" stroke-width="1" />
<line x1="503.09" y1="163.50" x2="503.09" y2="161.50" stroke="#000" stroke-width="1" />
<line x1="508.90" y1="163.50" x2="508.90" y2="161.50" stroke="#000" stroke-width="1" />
<line x1="513.81" y1="163.50" x2="513.81" y2="161.50" stroke="#000" stroke-width="1" />
<line x1="518.06" y1="163.50" x2="518.06" y2="161.50" stroke="#000" stroke-width="1" />
<line x1="521.81" y1="163.50" x2="521.81" y2="161.50" stroke="#000" stroke-width="1" />
<line x1="525.17" y1="163.50" x2="525.17" y2="160.00" stroke="#000" stroke-width="1" />
<line x1="547.24" y1="163.50" x2="547.24" y2="161.50" stroke="#000" stroke-width="1" />
<line x1="560.16" y1="163.50" x2="560.16" y2="161.50" stroke="#000" stroke-width="1" />
<line x1="569.32" y1="163.50" x2="569.32" y2="161.50" stroke="#000" stroke-width="1" />
<line x1="576.42" y1="163.50" x2="576.42" y2="161.50" stroke="#000" stroke-width="1" />
<line x1="582.23" y1="163.50" x2="582.23" y2="161.50" stroke="#000" stroke-width="1" />
<line x1="587.14" y1="163.50" x2="587.14" y2="161.50" stroke="#000" stroke-width="1" />
<line x1="591.39" y1="163.50" x2="591.39" y2="161.50" stroke="#000" stroke-width="1" />
<line x1="595.14" y1="163.50" x2="595.14" y2="161.50" stroke="#000" stroke-width="1" />
<text x="351" y="12.3" font-size="16" text-anchor="end" fill="#000" font-weight="bold" font-style="normal" ><tspan >b</tspan></text>
<text x="373.6" y="36.69999999999999" font-size="11" text-anchor="end" fill="#000" font-weight="normal" font-style="normal" ><tspan >30</tspan></text>
<text x="602.6" y="36.69999999999999" font-size="11" text-anchor="start" fill="#000" font-weight="normal" font-style="normal" ><tspan >30</tspan></text>
<text x="373.6" y="80.3" font-size="11" text-anchor="end" fill="#000" font-weight="normal" font-style="normal" ><tspan >20</tspan></text>
<text x="602.6" y="80.3" font-size="11" text-anchor="start" fill="#000" font-weight="normal" font-style="normal" ><tspan >20</tspan></text>
<text x="373.6" y="123.9" font-size="11" text-anchor="end" fill="#000" font-weight="normal" font-style="normal" ><tspan >10</tspan></text>
<text x="602.6" y="123.9" font-size="11" text-anchor="start" fill="#000" font-weight="normal" font-style="normal" ><tspan >10</tspan></text>
<text x="375.6" y="165.3" font-size="11" text-anchor="end" fill="#000" font-weight="normal" font-style="normal" ><tspan >0</tspan></text>
<text x="602.6" y="165.3" font-size="11" text-anchor="start" fill="#000" font-weight="normal" font-style="normal" ><tspan >0</tspan></text>
<text x="380.0" y="177.1" font-size="11" text-anchor="middle" fill="#000" font-weight="normal" font-style="normal" ><tspan >10</tspan><tspan font-size="6.82" dy="-3.74">2</tspan></text>
<text x="451.6333333333333" y="177.1" font-size="11" text-anchor="middle" fill="#000" font-weight="normal" font-style="normal" ><tspan >10</tspan><tspan font-size="6.82" dy="-3.74">3</tspan></text>
<text x="524.9666666666666" y="177.1" font-size="11" text-anchor="middle" fill="#000" font-weight="normal" font-style="normal" ><tspan >10</tspan><tspan font-size="6.82" dy="-3.74">4</tspan></text>
<text x="598.3" y="177.1" font-size="11" text-anchor="middle" fill="#000" font-weight="normal" font-style="normal" ><tspan >10</tspan><tspan font-size="6.82" dy="-3.74">5</tspan></text>
<text x="494.4" y="191.8" font-size="11.2" text-anchor="middle" fill="#000" font-weight="normal" font-style="normal" ><tspan >Luminance (cd m</tspan><tspan font-size="6.94" dy="-4.70">-2</tspan><tspan dy="4.70">)</tspan></text>
<text x="357.6" y="87.6" font-size="11" text-anchor="middle" fill="#000" font-weight="normal" font-style="normal" transform="rotate(-90 357.6 87.6)" ><tspan >EQE (%)</tspan></text>
<text x="626.0" y="87.3" font-size="11" text-anchor="middle" fill="#000" font-weight="normal" font-style="normal" transform="rotate(-90 626.0 87.3)" ><tspan >EPE (%)</tspan></text>
<text x="381" y="21" font-size="10" text-anchor="start" fill="#000" font-weight="normal" font-style="normal" ><tspan >EQE</tspan><tspan font-size="7.00" dy="2.80">max</tspan><tspan dy="-2.80"> 28.9%</tspan></text>
<text x="462.7" y="21" font-size="10" text-anchor="start" fill="#000" font-weight="normal" font-style="normal" ><tspan >EPE</tspan><tspan font-size="7.00" dy="2.80">max</tspan><tspan dy="-2.80"> 29.1%</tspan></text>
<text x="538.2" y="21" font-size="10" text-anchor="start" fill="#000" font-weight="normal" font-style="normal" ><tspan >IPE</tspan><tspan font-size="7.00" dy="2.80">max</tspan><tspan dy="-2.80"> 90.9%</tspan></text>
<text x="514.8" y="62.5" font-size="10.1" text-anchor="end" fill="#000" font-weight="normal" font-style="normal" ><tspan font-style="italic">V</tspan><tspan font-size="6.87" dy="2.83">p</tspan><tspan dy="-2.83"> = 1.93 V</tspan></text>
<text x="516.6" y="75.5" font-size="10.1" text-anchor="end" fill="#000" font-weight="normal" font-style="normal" ><tspan font-style="italic">λ</tspan><tspan font-size="6.87" dy="2.83">peak</tspan><tspan dy="-2.83"> = 644 nm</tspan></text>
<ellipse cx="390.3" cy="62.5" rx="4.1" ry="8.1" fill="none" stroke="#000" stroke-width="1.0" stroke-dasharray="3,1.3"/>
<line x1="389.50" y1="70.10" x2="382.00" y2="70.10" stroke="#000" stroke-width="1.0" />
<path d="M379.2,70.1 L383.4,67.9 L383.4,72.3 Z" fill="#000"/>
<ellipse cx="577.0" cy="71.3" rx="3.3" ry="5.4" fill="none" stroke="#000" stroke-width="1.0" stroke-dasharray="3,1.3"/>
<line x1="580.20" y1="72.60" x2="590.50" y2="72.60" stroke="#000" stroke-width="1.1" stroke-dasharray="2.4,1.3"/>
<path d="M594.0,72.6 L589.8,70.4 L589.8,74.8 Z" fill="#000"/>
<rect x="416.0" y="84.3" width="112.70000000000005" height="53.000000000000014" fill="#fff" stroke="none"/>
<line x1="481.30" y1="85.80" x2="481.30" y2="137.30" stroke="#a8a8a8" stroke-width="1.2" stroke-dasharray="5,3.2"/>
<path d="M415.90,137.14 L416.28,137.14 L416.66,137.14 L417.04,137.14 L417.42,137.14 L417.79,137.13 L418.17,137.13 L418.55,137.13 L418.93,137.13 L419.31,137.13 L419.69,137.12 L420.07,137.12 L420.45,137.12 L420.82,137.12 L421.20,137.11 L421.58,137.11 L421.96,137.11 L422.34,137.11 L422.72,137.10 L423.10,137.10 L423.48,137.10 L423.85,137.10 L424.23,137.09 L424.61,137.09 L424.99,137.09 L425.37,137.09 L425.75,137.08 L426.13,137.08 L426.51,137.08 L426.89,137.07 L427.26,137.07 L427.64,137.07 L428.02,137.07 L428.40,137.06 L428.78,137.06 L429.16,137.06 L429.54,137.05 L429.92,137.05 L430.29,137.05 L430.67,137.04 L431.05,137.04 L431.43,137.03 L431.81,137.03 L432.19,137.03 L432.57,137.02 L432.95,137.02 L433.32,137.01 L433.70,137.01 L434.08,137.00 L434.46,137.00 L434.84,137.00 L435.22,136.99 L435.60,136.99 L435.98,136.98 L436.35,136.98 L436.73,136.97 L437.11,136.96 L437.49,136.96 L437.87,136.95 L438.25,136.95 L438.63,136.94 L439.01,136.94 L439.39,136.93 L439.76,136.92 L440.14,136.92 L440.52,136.91 L440.90,136.90 L441.28,136.89 L441.66,136.89 L442.04,136.88 L442.42,136.87 L442.79,136.86 L443.17,136.86 L443.55,136.85 L443.93,136.84 L444.31,136.83 L444.69,136.82 L445.07,136.81 L445.45,136.80 L445.82,136.79 L446.20,136.78 L446.58,136.77 L446.96,136.76 L447.34,136.75 L447.72,136.74 L448.10,136.72 L448.48,136.71 L448.86,136.70 L449.23,136.69 L449.61,136.67 L449.99,136.66 L450.37,136.64 L450.75,136.63 L451.13,136.61 L451.51,136.60 L451.89,136.58 L452.26,136.56 L452.64,136.54 L453.02,136.53 L453.40,136.51 L453.78,136.49 L454.16,136.47 L454.54,136.44 L454.92,136.42 L455.29,136.40 L455.67,136.37 L456.05,136.35 L456.43,136.32 L456.81,136.29 L457.19,136.26 L457.57,136.23 L457.95,136.20 L458.33,136.16 L458.70,136.12 L459.08,136.08 L459.46,136.04 L459.84,135.99 L460.22,135.94 L460.60,135.89 L460.98,135.83 L461.36,135.76 L461.73,135.69 L462.11,135.61 L462.49,135.53 L462.87,135.43 L463.25,135.33 L463.63,135.21 L464.01,135.08 L464.39,134.93 L464.76,134.77 L465.14,134.59 L465.52,134.39 L465.90,134.17 L466.28,133.92 L466.66,133.64 L467.04,133.33 L467.42,132.98 L467.80,132.60 L468.17,132.18 L468.55,131.71 L468.93,131.20 L469.31,130.64 L469.69,130.03 L470.07,129.36 L470.45,128.64 L470.83,127.85 L471.20,127.00 L471.58,126.09 L471.96,125.12 L472.34,124.08 L472.72,122.97 L473.10,121.81 L473.48,120.58 L473.86,119.29 L474.23,117.95 L474.61,116.55 L474.99,115.11 L475.37,113.63 L475.75,112.12 L476.13,110.59 L476.51,109.04 L476.89,107.48 L477.26,105.94 L477.64,104.41 L478.02,102.92 L478.40,101.48 L478.78,100.10 L479.16,98.81 L479.54,97.61 L479.92,96.52 L480.30,95.57 L480.67,94.75 L481.05,94.10 L481.43,93.62 L481.81,93.32 L482.19,93.20 L482.57,93.27 L482.95,93.53 L483.33,93.96 L483.70,94.57 L484.08,95.34 L484.46,96.26 L484.84,97.32 L485.22,98.49 L485.60,99.76 L485.98,101.12 L486.36,102.55 L486.73,104.03 L487.11,105.54 L487.49,107.08 L487.87,108.64 L488.25,110.19 L488.63,111.73 L489.01,113.25 L489.39,114.74 L489.77,116.19 L490.14,117.59 L490.52,118.95 L490.90,120.25 L491.28,121.50 L491.66,122.68 L492.04,123.80 L492.42,124.86 L492.80,125.85 L493.17,126.77 L493.55,127.64 L493.93,128.44 L494.31,129.18 L494.69,129.86 L495.07,130.49 L495.45,131.06 L495.83,131.59 L496.20,132.06 L496.58,132.50 L496.96,132.89 L497.34,133.24 L497.72,133.56 L498.10,133.85 L498.48,134.10 L498.86,134.34 L499.24,134.54 L499.61,134.73 L499.99,134.89 L500.37,135.04 L500.75,135.18 L501.13,135.30 L501.51,135.41 L501.89,135.50 L502.27,135.59 L502.64,135.67 L503.02,135.75 L503.40,135.81 L503.78,135.87 L504.16,135.93 L504.54,135.98 L504.92,136.03 L505.30,136.07 L505.67,136.11 L506.05,136.15 L506.43,136.19 L506.81,136.22 L507.19,136.25 L507.57,136.28 L507.95,136.31 L508.33,136.34 L508.71,136.37 L509.08,136.39 L509.46,136.41 L509.84,136.44 L510.22,136.46 L510.60,136.48 L510.98,136.50 L511.36,136.52 L511.74,136.54 L512.11,136.56 L512.49,136.58 L512.87,136.59 L513.25,136.61 L513.63,136.62 L514.01,136.64 L514.39,136.65 L514.77,136.67 L515.14,136.68 L515.52,136.70 L515.90,136.71 L516.28,136.72 L516.66,136.73 L517.04,136.75 L517.42,136.76 L517.80,136.77 L518.17,136.78 L518.55,136.79 L518.93,136.80 L519.31,136.81 L519.69,136.82 L520.07,136.83 L520.45,136.84 L520.83,136.85 L521.21,136.85 L521.58,136.86 L521.96,136.87 L522.34,136.88 L522.72,136.89 L523.10,136.89 L523.48,136.90 L523.86,136.91 L524.24,136.91 L524.61,136.92 L524.99,136.93 L525.37,136.93 L525.75,136.94 L526.13,136.95 L526.51,136.95 L526.89,136.96 L527.27,136.96 L527.64,136.97 L528.02,136.97 L528.40,136.98 L528.78,136.98 L529.16,136.99" stroke="#c8c8c8" stroke-width="2.4" fill="none" />
<path d="M415.90,137.16 L416.28,137.16 L416.66,137.16 L417.04,137.15 L417.42,137.15 L417.79,137.15 L418.17,137.15 L418.55,137.15 L418.93,137.15 L419.31,137.14 L419.69,137.14 L420.07,137.14 L420.45,137.14 L420.82,137.14 L421.20,137.13 L421.58,137.13 L421.96,137.13 L422.34,137.13 L422.72,137.13 L423.10,137.12 L423.48,137.12 L423.85,137.12 L424.23,137.12 L424.61,137.11 L424.99,137.11 L425.37,137.11 L425.75,137.11 L426.13,137.10 L426.51,137.10 L426.89,137.10 L427.26,137.10 L427.64,137.09 L428.02,137.09 L428.40,137.09 L428.78,137.08 L429.16,137.08 L429.54,137.08 L429.92,137.08 L430.29,137.07 L430.67,137.07 L431.05,137.07 L431.43,137.06 L431.81,137.06 L432.19,137.05 L432.57,137.05 L432.95,137.05 L433.32,137.04 L433.70,137.04 L434.08,137.04 L434.46,137.03 L434.84,137.03 L435.22,137.02 L435.60,137.02 L435.98,137.01 L436.35,137.01 L436.73,137.00 L437.11,137.00 L437.49,136.99 L437.87,136.99 L438.25,136.98 L438.63,136.98 L439.01,136.97 L439.39,136.97 L439.76,136.96 L440.14,136.96 L440.52,136.95 L440.90,136.94 L441.28,136.94 L441.66,136.93 L442.04,136.92 L442.42,136.92 L442.79,136.91 L443.17,136.90 L443.55,136.89 L443.93,136.89 L444.31,136.88 L444.69,136.87 L445.07,136.86 L445.45,136.85 L445.82,136.84 L446.20,136.84 L446.58,136.83 L446.96,136.82 L447.34,136.81 L447.72,136.80 L448.10,136.78 L448.48,136.77 L448.86,136.76 L449.23,136.75 L449.61,136.74 L449.99,136.72 L450.37,136.71 L450.75,136.70 L451.13,136.68 L451.51,136.67 L451.89,136.65 L452.26,136.64 L452.64,136.62 L453.02,136.61 L453.40,136.59 L453.78,136.57 L454.16,136.55 L454.54,136.53 L454.92,136.51 L455.29,136.49 L455.67,136.47 L456.05,136.45 L456.43,136.42 L456.81,136.40 L457.19,136.37 L457.57,136.34 L457.95,136.31 L458.33,136.28 L458.70,136.25 L459.08,136.22 L459.46,136.18 L459.84,136.14 L460.22,136.10 L460.60,136.05 L460.98,136.01 L461.36,135.95 L461.73,135.90 L462.11,135.84 L462.49,135.77 L462.87,135.69 L463.25,135.61 L463.63,135.52 L464.01,135.42 L464.39,135.30 L464.76,135.17 L465.14,135.03 L465.52,134.87 L465.90,134.69 L466.28,134.49 L466.66,134.26 L467.04,134.01 L467.42,133.72 L467.80,133.40 L468.17,133.05 L468.55,132.65 L468.93,132.21 L469.31,131.72 L469.69,131.18 L470.07,130.58 L470.45,129.92 L470.83,129.20 L471.20,128.42 L471.58,127.56 L471.96,126.64 L472.34,125.65 L472.72,124.58 L473.10,123.45 L473.48,122.24 L473.86,120.96 L474.23,119.61 L474.61,118.20 L474.99,116.73 L475.37,115.21 L475.75,113.65 L476.13,112.04 L476.51,110.42 L476.89,108.77 L477.26,107.13 L477.64,105.50 L478.02,103.89 L478.40,102.33 L478.78,100.83 L479.16,99.41 L479.54,98.10 L479.92,96.90 L480.30,95.84 L480.67,94.94 L481.05,94.21 L481.43,93.67 L481.81,93.33 L482.19,93.20 L482.57,93.28 L482.95,93.57 L483.33,94.05 L483.70,94.73 L484.08,95.59 L484.46,96.61 L484.84,97.78 L485.22,99.07 L485.60,100.46 L485.98,101.94 L486.36,103.49 L486.73,105.08 L487.11,106.71 L487.49,108.35 L487.87,110.00 L488.25,111.63 L488.63,113.24 L489.01,114.81 L489.39,116.35 L489.77,117.83 L490.14,119.25 L490.52,120.62 L490.90,121.91 L491.28,123.14 L491.66,124.30 L492.04,125.38 L492.42,126.39 L492.80,127.33 L493.17,128.20 L493.55,129.01 L493.93,129.74 L494.31,130.41 L494.69,131.03 L495.07,131.58 L495.45,132.09 L495.83,132.54 L496.20,132.95 L496.58,133.32 L496.96,133.64 L497.34,133.94 L497.72,134.20 L498.10,134.43 L498.48,134.64 L498.86,134.83 L499.24,134.99 L499.61,135.14 L499.99,135.27 L500.37,135.39 L500.75,135.49 L501.13,135.59 L501.51,135.67 L501.89,135.75 L502.27,135.82 L502.64,135.88 L503.02,135.94 L503.40,135.99 L503.78,136.04 L504.16,136.09 L504.54,136.13 L504.92,136.17 L505.30,136.21 L505.67,136.24 L506.05,136.27 L506.43,136.31 L506.81,136.33 L507.19,136.36 L507.57,136.39 L507.95,136.41 L508.33,136.44 L508.71,136.46 L509.08,136.48 L509.46,136.51 L509.84,136.53 L510.22,136.55 L510.60,136.57 L510.98,136.58 L511.36,136.60 L511.74,136.62 L512.11,136.63 L512.49,136.65 L512.87,136.67 L513.25,136.68 L513.63,136.69 L514.01,136.71 L514.39,136.72 L514.77,136.73 L515.14,136.75 L515.52,136.76 L515.90,136.77 L516.28,136.78 L516.66,136.79 L517.04,136.80 L517.42,136.81 L517.80,136.82 L518.17,136.83 L518.55,136.84 L518.93,136.85 L519.31,136.86 L519.69,136.87 L520.07,136.88 L520.45,136.88 L520.83,136.89 L521.21,136.90 L521.58,136.91 L521.96,136.92 L522.34,136.92 L522.72,136.93 L523.10,136.94 L523.48,136.94 L523.86,136.95 L524.24,136.95 L524.61,136.96 L524.99,136.97 L525.37,136.97 L525.75,136.98 L526.13,136.98 L526.51,136.99 L526.89,136.99 L527.27,137.00 L527.64,137.00 L528.02,137.01 L528.40,137.01 L528.78,137.02 L529.16,137.02" stroke="#000" stroke-width="2.1" fill="none" stroke-dasharray="6.5,3.5"/>
<rect x="416.0" y="84.3" width="112.70000000000005" height="53.000000000000014" fill="none" stroke="#000" stroke-width="1.1"/>
<line x1="416.00" y1="137.30" x2="418.50" y2="137.30" stroke="#000" stroke-width="1" />
<line x1="416.00" y1="115.25" x2="418.50" y2="115.25" stroke="#000" stroke-width="1" />
<line x1="416.00" y1="93.20" x2="418.50" y2="93.20" stroke="#000" stroke-width="1" />
<line x1="423.99" y1="137.30" x2="423.99" y2="134.80" stroke="#000" stroke-width="1" />
<line x1="464.44" y1="137.30" x2="464.44" y2="134.80" stroke="#000" stroke-width="1" />
<line x1="504.89" y1="137.30" x2="504.89" y2="134.80" stroke="#000" stroke-width="1" />
<text x="413" y="96.7" font-size="10" text-anchor="end" fill="#000" font-weight="normal" font-style="normal" ><tspan >1</tspan></text>
<text x="413" y="140.8" font-size="10" text-anchor="end" fill="#000" font-weight="normal" font-style="normal" ><tspan >0</tspan></text>
<text x="423.98999999999995" y="148" font-size="10" text-anchor="middle" fill="#000" font-weight="normal" font-style="normal" ><tspan >500</tspan></text>
<text x="464.44" y="148" font-size="10" text-anchor="middle" fill="#000" font-weight="normal" font-style="normal" ><tspan >600</tspan></text>
<text x="504.89" y="148" font-size="10" text-anchor="middle" fill="#000" font-weight="normal" font-style="normal" ><tspan >700</tspan></text>
<text x="465.2" y="158.6" font-size="10.4" text-anchor="middle" fill="#000" font-weight="normal" font-style="normal" ><tspan >Wavelength (nm)</tspan></text>
<text x="392.6" y="109.8" font-size="9.5" text-anchor="middle" fill="#000" font-weight="normal" font-style="normal" transform="rotate(-90 392.6 109.8)" ><tspan >Intensity</tspan></text>
<text x="405" y="109.5" font-size="9.7" text-anchor="middle" fill="#000" font-weight="normal" font-style="normal" transform="rotate(-90 405 109.5)" ><tspan >(arb. units)</tspan></text>
<line x1="422.00" y1="100.90" x2="447.00" y2="100.90" stroke="#c8c8c8" stroke-width="2.2" />
<text x="448.9" y="104.6" font-size="10.4" text-anchor="start" fill="#000" font-weight="normal" font-style="normal" ><tspan >PL</tspan></text>
<line x1="422.00" y1="113.80" x2="442.40" y2="113.80" stroke="#000" stroke-width="2.3" stroke-dasharray="7,6.2"/>
<text x="448.9" y="117.4" font-size="10.4" text-anchor="start" fill="#000" font-weight="normal" font-style="normal" ><tspan >EL</tspan></text>
<text x="393" y="160.5" font-size="16" text-anchor="start" fill="#000" font-weight="bold" font-style="normal" ><tspan >e</tspan></text>
<rect x="68.8" y="244.9" width="11.0" height="33.599999999999994" fill="#5a5a5a" stroke="#444" stroke-width="0.6"/>
<rect x="91.3" y="244.2" width="11.5" height="34.30000000000001" fill="#5a5a5a" stroke="#444" stroke-width="0.6"/>
<rect x="114.2" y="245.8" width="11.5" height="32.69999999999999" fill="#5a5a5a" stroke="#444" stroke-width="0.6"/>
<rect x="68.8" y="302.4" width="11.0" height="37.60000000000002" fill="#c40000" stroke="#a00" stroke-width="0.6"/>
<rect x="91.3" y="301.7" width="11.5" height="38.30000000000001" fill="#c40000" stroke="#a00" stroke-width="0.6"/>
<rect x="114.2" y="301.7" width="11.5" height="38.30000000000001" fill="#c40000" stroke="#a00" stroke-width="0.6"/>
<rect x="68.8" y="349.2" width="11.0" height="41.19999999999999" fill="#5a5a5a" stroke="#444" stroke-width="0.6"/>
<rect x="91.3" y="350.2" width="11.5" height="40.19999999999999" fill="#5a5a5a" stroke="#444" stroke-width="0.6"/>
<rect x="114.2" y="349.2" width="11.5" height="41.19999999999999" fill="#5a5a5a" stroke="#444" stroke-width="0.6"/>
<line x1="74.30" y1="244.20" x2="74.30" y2="245.60" stroke="#111" stroke-width="1" />
<line x1="71.90" y1="244.20" x2="76.70" y2="244.20" stroke="#111" stroke-width="1" />
<line x1="71.90" y1="245.60" x2="76.70" y2="245.60" stroke="#111" stroke-width="1" />
<line x1="97.05" y1="243.30" x2="97.05" y2="245.10" stroke="#111" stroke-width="1" />
<line x1="94.65" y1="243.30" x2="99.45" y2="243.30" stroke="#111" stroke-width="1" />
<line x1="94.65" y1="245.10" x2="99.45" y2="245.10" stroke="#111" stroke-width="1" />
<line x1="119.95" y1="245.00" x2="119.95" y2="246.60" stroke="#111" stroke-width="1" />
<line x1="117.55" y1="245.00" x2="122.35" y2="245.00" stroke="#111" stroke-width="1" />
<line x1="117.55" y1="246.60" x2="122.35" y2="246.60" stroke="#111" stroke-width="1" />
<line x1="74.30" y1="300.60" x2="74.30" y2="303.80" stroke="#111" stroke-width="1" />
<line x1="71.90" y1="300.60" x2="76.70" y2="300.60" stroke="#111" stroke-width="1" />
<line x1="71.90" y1="303.80" x2="76.70" y2="303.80" stroke="#111" stroke-width="1" />
<line x1="97.05" y1="299.70" x2="97.05" y2="303.40" stroke="#111" stroke-width="1" />
<line x1="94.65" y1="299.70" x2="99.45" y2="299.70" stroke="#111" stroke-width="1" />
<line x1="94.65" y1="303.40" x2="99.45" y2="303.40" stroke="#111" stroke-width="1" />
<line x1="119.95" y1="298.90" x2="119.95" y2="304.00" stroke="#111" stroke-width="1" />
<line x1="117.55" y1="298.90" x2="122.35" y2="298.90" stroke="#111" stroke-width="1" />
<line x1="117.55" y1="304.00" x2="122.35" y2="304.00" stroke="#111" stroke-width="1" />
<line x1="74.30" y1="347.30" x2="74.30" y2="351.20" stroke="#111" stroke-width="1" />
<line x1="71.90" y1="347.30" x2="76.70" y2="347.30" stroke="#111" stroke-width="1" />
<line x1="71.90" y1="351.20" x2="76.70" y2="351.20" stroke="#111" stroke-width="1" />
<line x1="97.05" y1="348.50" x2="97.05" y2="352.00" stroke="#111" stroke-width="1" />
<line x1="94.65" y1="348.50" x2="99.45" y2="348.50" stroke="#111" stroke-width="1" />
<line x1="94.65" y1="352.00" x2="99.45" y2="352.00" stroke="#111" stroke-width="1" />
<line x1="119.95" y1="346.70" x2="119.95" y2="351.70" stroke="#111" stroke-width="1" />
<line x1="117.55" y1="346.70" x2="122.35" y2="346.70" stroke="#111" stroke-width="1" />
<line x1="117.55" y1="351.70" x2="122.35" y2="351.70" stroke="#111" stroke-width="1" />
<line x1="63.00" y1="232.30" x2="131.50" y2="232.30" stroke="#000" stroke-width="1.3" />
<line x1="131.50" y1="231.65" x2="131.50" y2="391.05" stroke="#000" stroke-width="1.3" />
<line x1="63.00" y1="278.50" x2="131.50" y2="278.50" stroke="#000" stroke-width="1.3" />
<line x1="63.00" y1="340.00" x2="131.50" y2="340.00" stroke="#000" stroke-width="1.3" />
<line x1="63.00" y1="390.40" x2="131.50" y2="390.40" stroke="#000" stroke-width="1.3" />
<line x1="63.00" y1="231.65" x2="63.00" y2="278.50" stroke="#000" stroke-width="1.3" />
<line x1="63.00" y1="278.50" x2="63.00" y2="340.00" stroke="#c40000" stroke-width="1.3" />
<line x1="63.00" y1="340.00" x2="63.00" y2="391.05" stroke="#000" stroke-width="1.3" />
<line x1="63.00" y1="255.40" x2="66.20" y2="255.40" stroke="#000" stroke-width="1" />
<line x1="63.00" y1="318.30" x2="66.20" y2="318.30" stroke="#c40000" stroke-width="1" />
<line x1="63.00" y1="296.60" x2="66.20" y2="296.60" stroke="#c40000" stroke-width="1" />
<line x1="63.00" y1="373.50" x2="66.20" y2="373.50" stroke="#000" stroke-width="1" />
<line x1="63.00" y1="356.60" x2="66.20" y2="356.60" stroke="#000" stroke-width="1" />
<text x="59.8" y="239.6" font-size="11" text-anchor="end" fill="#000" font-weight="normal" font-style="normal" ><tspan >40</tspan></text>
<text x="59.8" y="262.3" font-size="11" text-anchor="end" fill="#000" font-weight="normal" font-style="normal" ><tspan >20</tspan></text>
<text x="59.8" y="282.0" font-size="11" text-anchor="end" fill="#000" font-weight="normal" font-style="normal" ><tspan >0</tspan></text>
<text x="59.8" y="300.5" font-size="11" text-anchor="end" fill="#c40000" font-weight="normal" font-style="normal" ><tspan >1</tspan></text>
<text x="59.8" y="321.7" font-size="11" text-anchor="end" fill="#c40000" font-weight="normal" font-style="normal" ><tspan >0.5</tspan></text>
<text x="59.8" y="343.4" font-size="11" text-anchor="end" fill="#c40000" font-weight="normal" font-style="normal" ><tspan >0</tspan></text>
<text x="59.8" y="361.0" font-size="11" text-anchor="end" fill="#000" font-weight="normal" font-style="normal" ><tspan >400</tspan></text>
<text x="59.8" y="377.7" font-size="11" text-anchor="end" fill="#000" font-weight="normal" font-style="normal" ><tspan >200</tspan></text>
<text x="59.8" y="396.0" font-size="11" text-anchor="end" fill="#000" font-weight="normal" font-style="normal" ><tspan >0</tspan></text>
<text x="73.8" y="402.4" font-size="11" text-anchor="middle" fill="#000" font-weight="normal" font-style="normal" ><tspan >1</tspan></text>
<text x="96.9" y="402.4" font-size="11" text-anchor="middle" fill="#000" font-weight="normal" font-style="normal" ><tspan >7</tspan></text>
<text x="117.3" y="402.4" font-size="11" text-anchor="middle" fill="#000" font-weight="normal" font-style="normal" ><tspan >30</tspan></text>
<text x="91.3" y="416" font-size="11" text-anchor="middle" fill="#000" font-weight="normal" font-style="normal" ><tspan >On-shelf time (day)</tspan></text>
<text x="8.5" y="237.5" font-size="16" text-anchor="end" fill="#000" font-weight="bold" font-style="normal" ><tspan >c</tspan></text>
<text x="8.7" y="293.7" font-size="16" text-anchor="end" fill="#000" font-weight="bold" font-style="normal" ><tspan >d</tspan></text>
<text x="8.7" y="353.0" font-size="16" text-anchor="end" fill="#000" font-weight="bold" font-style="normal" ><tspan >e</tspan></text>
<text x="23.5" y="255.0" font-size="11.4" text-anchor="middle" fill="#000" font-weight="normal" font-style="normal" transform="rotate(-90 23.5 255.0)" ><tspan >EQE</tspan><tspan font-size="7.98" dy="2.51">max</tspan></text>
<text x="37.2" y="254.8" font-size="11" text-anchor="middle" fill="#000" font-weight="normal" font-style="normal" transform="rotate(-90 37.2 254.8)" ><tspan >(%)</tspan></text>
<text x="23.6" y="324.2" font-size="11" fill="#c40000" transform="rotate(-90 23.6 324.2)"><tspan font-style="italic">L</tspan><tspan font-size="8.2" dy="2.6"> 3V</tspan></text>
<text x="36.9" y="313.0" font-size="11" text-anchor="middle" fill="#c40000" font-weight="normal" font-style="normal" transform="rotate(-90 36.9 313.0)" ><tspan >(x10</tspan><tspan font-size="6.82" dy="-4.62">5</tspan><tspan dy="4.62"> cd m</tspan><tspan font-size="6.82" dy="-4.62">-2</tspan><tspan dy="4.62">)</tspan></text>
<text x="22.8" y="376.3" font-size="11" fill="#000" transform="rotate(-90 22.8 376.3)"><tspan font-style="italic">J</tspan><tspan font-size="8.2" dy="3.3">3V</tspan></text>
<text x="36.6" y="368.0" font-size="11" text-anchor="middle" fill="#000" font-weight="normal" font-style="normal" transform="rotate(-90 36.6 368.0)" ><tspan >(mA cm</tspan><tspan font-size="6.82" dy="-4.62">-2</tspan><tspan dy="4.62">)</tspan></text>
<rect x="140.5" y="234.9" width="79.69999999999999" height="74.70000000000002" fill="#000"/>
<polygon points="151.6,245.2 208.3,244.7 209.2,299.6 152.8,300.8" fill="#ff0a0a" stroke="#ff0a0a" stroke-width="1.2" stroke-linejoin="round"/>
<line x1="179.30" y1="297.80" x2="208.20" y2="297.80" stroke="#fff" stroke-width="2" />
<text x="196.4" y="255.8" font-size="16" text-anchor="start" fill="#fff" font-weight="bold" font-style="normal" ><tspan >f</tspan></text>
<text x="143" y="247" font-size="11" fill="#fff" font-style="italic">1<tspan font-size="7" dy="-4">st</tspan><tspan dy="4" dx="2.6"> day</tspan></text>
<rect x="141.0" y="316.0" width="79.80000000000001" height="74.39999999999998" fill="#000"/>
<polygon points="153.0,327.8 207.9,326.4 208.9,378.0 153.9,379.1" fill="#ff0a0a" stroke="#ff0a0a" stroke-width="1.2" stroke-linejoin="round"/>
<line x1="179.80" y1="375.20" x2="207.70" y2="375.20" stroke="#fff" stroke-width="2" />
<text x="196.8" y="339.5" font-size="16" text-anchor="start" fill="#fff" font-weight="bold" font-style="normal" ><tspan >g</tspan></text>
<text x="143.6" y="328" font-size="11" fill="#fff" font-style="italic">30<tspan font-size="7" dy="-4">th</tspan><tspan dy="4"> day</tspan></text>
<path d="M276.60,248.00 L433.90,281.40" stroke="#000" stroke-width="2.0" fill="none" />
<path d="M276.20,350.90 L277.44,350.54 L278.62,350.18 L279.77,349.83 L280.94,349.47 L282.15,349.11 L283.46,348.75 L284.90,348.38 L286.50,348.00 L288.28,347.61 L290.19,347.20 L292.23,346.78 L294.36,346.36 L296.56,345.95 L298.82,345.54 L301.10,345.16 L303.40,344.80 L305.69,344.47 L307.98,344.16 L310.30,343.86 L312.68,343.58 L315.13,343.31 L317.69,343.04 L320.37,342.77 L323.20,342.50 L326.19,342.23 L329.33,341.97 L332.60,341.72 L335.96,341.47 L339.41,341.22 L342.91,340.96 L346.45,340.69 L350.00,340.40 L353.63,340.09 L357.39,339.76 L361.24,339.42 L365.11,339.07 L368.98,338.72 L372.78,338.37 L376.47,338.03 L380.00,337.70 L383.34,337.39 L386.52,337.10 L389.58,336.81 L392.59,336.53 L395.58,336.24 L398.61,335.94 L401.74,335.63 L405.00,335.30 L408.40,334.95 L411.90,334.57 L415.46,334.19 L419.07,333.79 L422.72,333.39 L426.37,332.99 L430.00,332.59 L433.60,332.20" stroke="#000" stroke-width="2.0" fill="none" stroke-dasharray="5,3"/>
<line x1="276.00" y1="233.60" x2="434.00" y2="233.60" stroke="#000" stroke-width="1.3" />
<line x1="276.00" y1="389.80" x2="434.00" y2="389.80" stroke="#000" stroke-width="1.3" />
<line x1="276.00" y1="232.95" x2="276.00" y2="390.45" stroke="#000" stroke-width="1.3" />
<line x1="434.00" y1="232.95" x2="434.00" y2="390.45" stroke="#000" stroke-width="1.3" />
<line x1="276.00" y1="389.80" x2="279.00" y2="389.80" stroke="#000" stroke-width="1" />
<line x1="276.00" y1="375.80" x2="279.00" y2="375.80" stroke="#000" stroke-width="1" />
<line x1="276.00" y1="361.80" x2="279.00" y2="361.80" stroke="#000" stroke-width="1" />
<line x1="276.00" y1="347.80" x2="279.00" y2="347.80" stroke="#000" stroke-width="1" />
<line x1="276.00" y1="333.80" x2="279.00" y2="333.80" stroke="#000" stroke-width="1" />
<line x1="276.00" y1="319.80" x2="279.00" y2="319.80" stroke="#000" stroke-width="1" />
<line x1="276.00" y1="305.80" x2="279.00" y2="305.80" stroke="#000" stroke-width="1" />
<line x1="276.00" y1="291.80" x2="279.00" y2="291.80" stroke="#000" stroke-width="1" />
<line x1="276.00" y1="277.80" x2="279.00" y2="277.80" stroke="#000" stroke-width="1" />
<line x1="276.00" y1="263.80" x2="279.00" y2="263.80" stroke="#000" stroke-width="1" />
<line x1="276.00" y1="249.80" x2="279.00" y2="249.80" stroke="#000" stroke-width="1" />
<line x1="434.00" y1="389.80" x2="431.00" y2="389.80" stroke="#000" stroke-width="1" />
<line x1="434.00" y1="374.18" x2="431.00" y2="374.18" stroke="#000" stroke-width="1" />
<line x1="434.00" y1="358.56" x2="431.00" y2="358.56" stroke="#000" stroke-width="1" />
<line x1="434.00" y1="342.94" x2="431.00" y2="342.94" stroke="#000" stroke-width="1" />
<line x1="434.00" y1="327.32" x2="431.00" y2="327.32" stroke="#000" stroke-width="1" />
<line x1="434.00" y1="311.70" x2="431.00" y2="311.70" stroke="#000" stroke-width="1" />
<line x1="434.00" y1="296.08" x2="431.00" y2="296.08" stroke="#000" stroke-width="1" />
<line x1="434.00" y1="280.46" x2="431.00" y2="280.46" stroke="#000" stroke-width="1" />
<line x1="434.00" y1="264.84" x2="431.00" y2="264.84" stroke="#000" stroke-width="1" />
<line x1="434.00" y1="249.22" x2="431.00" y2="249.22" stroke="#000" stroke-width="1" />
<line x1="434.00" y1="233.60" x2="431.00" y2="233.60" stroke="#000" stroke-width="1" />
<line x1="290.36" y1="389.80" x2="290.36" y2="386.80" stroke="#000" stroke-width="1" />
<line x1="304.73" y1="389.80" x2="304.73" y2="386.80" stroke="#000" stroke-width="1" />
<line x1="319.09" y1="389.80" x2="319.09" y2="386.80" stroke="#000" stroke-width="1" />
<line x1="333.45" y1="389.80" x2="333.45" y2="386.80" stroke="#000" stroke-width="1" />
<line x1="347.82" y1="389.80" x2="347.82" y2="386.80" stroke="#000" stroke-width="1" />
<line x1="362.18" y1="389.80" x2="362.18" y2="386.80" stroke="#000" stroke-width="1" />
<line x1="376.55" y1="389.80" x2="376.55" y2="386.80" stroke="#000" stroke-width="1" />
<line x1="390.91" y1="389.80" x2="390.91" y2="386.80" stroke="#000" stroke-width="1" />
<line x1="405.27" y1="389.80" x2="405.27" y2="386.80" stroke="#000" stroke-width="1" />
<line x1="419.64" y1="389.80" x2="419.64" y2="386.80" stroke="#000" stroke-width="1" />
<text x="252.8" y="232.6" font-size="16" text-anchor="end" fill="#000" font-weight="bold" font-style="normal" ><tspan >h</tspan></text>
<text x="274.5" y="254.8" font-size="11" text-anchor="end" fill="#000" font-weight="normal" font-style="normal" ><tspan >100</tspan></text>
<text x="274.5" y="324.1" font-size="11" text-anchor="end" fill="#000" font-weight="normal" font-style="normal" ><tspan >50</tspan></text>
<text x="274.5" y="393.8" font-size="11" text-anchor="end" fill="#000" font-weight="normal" font-style="normal" ><tspan >0</tspan></text>
<text x="437.3" y="239.5" font-size="11" text-anchor="start" fill="#000" font-weight="normal" font-style="normal" ><tspan >10</tspan></text>
<text x="438.3" y="316.7" font-size="11" text-anchor="start" fill="#000" font-weight="normal" font-style="normal" ><tspan >5</tspan></text>
<text x="436.8" y="393.8" font-size="11" text-anchor="start" fill="#000" font-weight="normal" font-style="normal" ><tspan >0</tspan></text>
<text x="278.6" y="403.7" font-size="11" text-anchor="middle" fill="#000" font-weight="normal" font-style="normal" ><tspan >0</tspan></text>
<text x="318.0909090909091" y="403.7" font-size="11" text-anchor="middle" fill="#000" font-weight="normal" font-style="normal" ><tspan >150</tspan></text>
<text x="362.2818181818182" y="403.7" font-size="11" text-anchor="middle" fill="#000" font-weight="normal" font-style="normal" ><tspan >300</tspan></text>
<text x="407.27272727272725" y="403.7" font-size="11" text-anchor="middle" fill="#000" font-weight="normal" font-style="normal" ><tspan >450</tspan></text>
<text x="355.7" y="416" font-size="11.1" text-anchor="middle" fill="#000" font-weight="normal" font-style="normal" ><tspan >Aging time (hour)</tspan></text>
<text x="249.4" y="309.6" font-size="11.3" text-anchor="middle" fill="#000" font-weight="normal" font-style="normal" transform="rotate(-90 249.4 309.6)" ><tspan >Relative luminance (%)</tspan></text>
<text x="454.4" y="307.8" font-size="11.1" text-anchor="middle" fill="#000" font-weight="normal" font-style="normal" transform="rotate(-90 454.4 307.8)" ><tspan >Voltage (V)</tspan></text>
<text x="285.7" y="279.8" font-size="10.1" text-anchor="start" fill="#000" font-weight="normal" font-style="normal" ><tspan font-style="italic">T</tspan><tspan font-size="7.27" dy="3.03">95</tspan><tspan dy="-3.03"> = 111 h</tspan></text>
<text x="381.8" y="299.5" font-size="9.8" text-anchor="start" fill="#000" font-weight="normal" font-style="normal" ><tspan font-style="italic">T</tspan><tspan font-size="7.06" dy="2.94">80</tspan><tspan dy="-2.94"> = 450 h</tspan></text>
<line x1="308.40" y1="260.00" x2="308.40" y2="268.40" stroke="#000" stroke-width="0.9" />
<path d="M305.8,262.6 L308.4,259.2 L311,262.6" fill="none" stroke="#000" stroke-width="0.9"/>
<line x1="409.30" y1="281.00" x2="409.30" y2="288.90" stroke="#000" stroke-width="0.9" />
<path d="M406.7,283.4 L409.3,280 L411.9,283.4" fill="none" stroke="#000" stroke-width="0.9"/>
<text x="283.7" y="380.5" font-size="10.2" text-anchor="start" fill="#000" font-weight="bold" font-style="normal" ><tspan font-style="italic">L</tspan><tspan font-size="6.32" dy="2.86">0</tspan><tspan dy="-2.86"> = 29,700 cd m</tspan><tspan font-size="6.32" dy="-4.28">-2</tspan></text>
<ellipse cx="292.5" cy="251.4" rx="3.9" ry="7.9" fill="none" stroke="#000" stroke-width="1.0" stroke-dasharray="3,1.3"/>
<line x1="294.80" y1="259.30" x2="280.50" y2="259.30" stroke="#000" stroke-width="0.9" />
<path d="M278.6,259.3 L282.8,257.1 L282.8,261.5 Z" fill="#000"/>
<ellipse cx="409.2" cy="338.1" rx="4.1" ry="7.9" fill="none" stroke="#000" stroke-width="1.0" stroke-dasharray="3,1.3"/>
<line x1="413.50" y1="344.60" x2="428.00" y2="344.60" stroke="#000" stroke-width="1.0" stroke-dasharray="2.2,1.4"/>
<path d="M430.5,344.6 L426.3,342.4 L426.3,346.8 Z" fill="#000"/>
<rect x="496.15" y="273.4" width="1.7" height="116.60" fill="#5a5a5a"/>
<rect x="501.22" y="272" width="1.7" height="118.00" fill="#5a5a5a"/>
<rect x="506.28" y="267.2" width="1.7" height="122.80" fill="#5a5a5a"/>
<rect x="511.35" y="276.7" width="1.7" height="113.30" fill="#5a5a5a"/>
<rect x="516.42" y="274.9" width="1.7" height="115.10" fill="#5a5a5a"/>
<rect x="521.49" y="272.4" width="1.7" height="117.60" fill="#5a5a5a"/>
<rect x="526.55" y="272.6" width="1.7" height="117.40" fill="#5a5a5a"/>
<rect x="531.62" y="273.9" width="1.7" height="116.10" fill="#5a5a5a"/>
<rect x="536.69" y="284.2" width="1.7" height="105.80" fill="#5a5a5a"/>
<rect x="541.75" y="282.1" width="1.7" height="107.90" fill="#5a5a5a"/>
<rect x="546.82" y="278.6" width="1.7" height="111.40" fill="#5a5a5a"/>
<rect x="551.89" y="279.8" width="1.7" height="110.20" fill="#5a5a5a"/>
<rect x="556.95" y="275.1" width="1.7" height="114.90" fill="#5a5a5a"/>
<rect x="562.02" y="274.9" width="1.7" height="115.10" fill="#5a5a5a"/>
<rect x="567.09" y="278.6" width="1.7" height="111.40" fill="#5a5a5a"/>
<rect x="572.15" y="281.7" width="1.7" height="108.30" fill="#5a5a5a"/>
<rect x="577.22" y="281.1" width="1.7" height="108.90" fill="#5a5a5a"/>
<rect x="582.29" y="275.5" width="1.7" height="114.50" fill="#5a5a5a"/>
<rect x="587.36" y="276.3" width="1.7" height="113.70" fill="#5a5a5a"/>
<rect x="592.42" y="284.2" width="1.7" height="105.80" fill="#5a5a5a"/>
<rect x="597.49" y="281.1" width="1.7" height="108.90" fill="#5a5a5a"/>
<rect x="602.56" y="280.2" width="1.7" height="109.80" fill="#5a5a5a"/>
<rect x="607.62" y="282.9" width="1.7" height="107.10" fill="#5a5a5a"/>
<rect x="612.69" y="280.2" width="1.7" height="109.80" fill="#5a5a5a"/>
<rect x="617.76" y="275.8" width="1.7" height="114.20" fill="#5a5a5a"/>
<rect x="622.82" y="277.1" width="1.7" height="112.90" fill="#5a5a5a"/>
<rect x="627.89" y="277.3" width="1.7" height="112.70" fill="#5a5a5a"/>
<rect x="632.96" y="280.1" width="1.7" height="109.90" fill="#5a5a5a"/>
<rect x="638.03" y="280.8" width="1.7" height="109.20" fill="#5a5a5a"/>
<rect x="643.09" y="277.1" width="1.7" height="112.90" fill="#5a5a5a"/>
<rect x="648.16" y="281.1" width="1.7" height="108.90" fill="#5a5a5a"/>
<line x1="494.60" y1="234.40" x2="651.50" y2="234.40" stroke="#000" stroke-width="1.3" />
<line x1="494.60" y1="390.00" x2="651.50" y2="390.00" stroke="#000" stroke-width="1.3" />
<line x1="494.60" y1="233.75" x2="494.60" y2="390.65" stroke="#000" stroke-width="1.3" />
<line x1="651.50" y1="233.75" x2="651.50" y2="390.65" stroke="#000" stroke-width="1.3" />
<line x1="651.50" y1="351.10" x2="648.50" y2="351.10" stroke="#000" stroke-width="1" />
<line x1="651.50" y1="312.20" x2="648.50" y2="312.20" stroke="#000" stroke-width="1" />
<line x1="651.50" y1="273.30" x2="648.50" y2="273.30" stroke="#000" stroke-width="1" />
<text x="490" y="229.8" font-size="16" text-anchor="end" fill="#000" font-weight="bold" font-style="normal" ><tspan >i</tspan></text>
<text x="654.2" y="277.3" font-size="11" text-anchor="start" fill="#000" font-weight="normal" font-style="normal" ><tspan >30</tspan></text>
<text x="654.2" y="316.2" font-size="11" text-anchor="start" fill="#000" font-weight="normal" font-style="normal" ><tspan >20</tspan></text>
<text x="654.2" y="355.1" font-size="11" text-anchor="start" fill="#000" font-weight="normal" font-style="normal" ><tspan >10</tspan></text>
<text x="654.2" y="394.0" font-size="11" text-anchor="start" fill="#000" font-weight="normal" font-style="normal" ><tspan >0</tspan></text>
<text x="498.2" y="403.7" font-size="11" text-anchor="middle" fill="#000" font-weight="normal" font-style="normal" ><tspan >1</tspan></text>
<text x="545.5" y="403.7" font-size="11" text-anchor="middle" fill="#000" font-weight="normal" font-style="normal" ><tspan >10</tspan></text>
<text x="595.8" y="403.7" font-size="11" text-anchor="middle" fill="#000" font-weight="normal" font-style="normal" ><tspan >20</tspan></text>
<text x="644.1" y="403.7" font-size="11" text-anchor="middle" fill="#000" font-weight="normal" font-style="normal" ><tspan >30</tspan></text>
<text x="577.3" y="416" font-size="11" text-anchor="middle" fill="#000" font-weight="normal" font-style="normal" ><tspan >Device No.</tspan></text>
<text x="682.4" y="315.6" font-size="11.2" text-anchor="middle" fill="#000" font-weight="normal" font-style="normal" transform="rotate(-90 682.4 315.6)" ><tspan >EPE (%) @ 1,000 cd m</tspan><tspan font-size="7.62" dy="-4.70">-2</tspan></text>
<text x="518.3" y="250.9" font-size="10" text-anchor="start" fill="#000" font-weight="normal" font-style="normal" ><tspan >EPE</tspan><tspan font-size="6.80" dy="3.00">avg</tspan><tspan dy="-3.00"> = 29.0± 1.0%</tspan></text>
</svg></body></html>
